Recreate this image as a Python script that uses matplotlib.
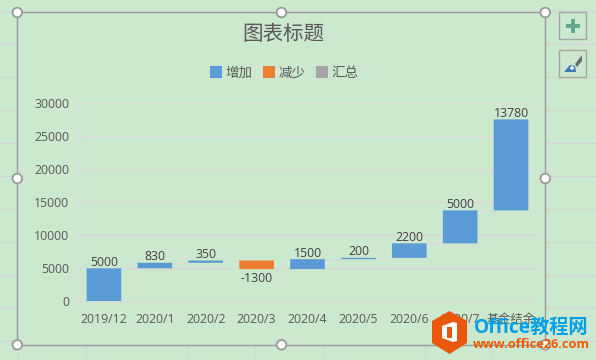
import matplotlib
matplotlib.use("Agg")
import matplotlib.pyplot as plt
from matplotlib.patches import Circle, Polygon, Rectangle

# Data
categories = ["2019/12", "2020/1", "2020/2", "2020/3", "2020/4",
              "2020/5", "2020/6", "2020/7", "基金结余"]
changes = [5000, 830, 350, -1300, 1500, 200, 2200, 5000, 13780]
y_ticks = [0, 5000, 10000, 15000, 20000, 25000, 30000]
legend_labels = ["增加", "减少", "汇总"]

BG = "#CCE8CF"
BLUE = "#5B9BD5"
ORANGE = "#ED7D31"
GRAY = "#A5A5A5"
GRID = "#D9D9D9"
TEXT = "#595959"
W, H = 596, 360

plt.rcParams["font.family"] = ["Open Sans", "Noto Sans CJK SC", "DejaVu Sans"]

fig = plt.figure(figsize=(W / 100, H / 100), dpi=100, facecolor=BG)

# pixel canvas for everything around the plot
bg = fig.add_axes([0, 0, 1, 1], zorder=0)
bg.set_xlim(0, W)
bg.set_ylim(H, 0)
bg.axis("off")

# sheet cell lines outside the chart
for y in [11, 44, 77, 110, 143, 176, 209, 242, 275, 308, 341]:
    bg.plot([0, 17], [y, y], color="#D4D4D4", lw=0.8)
    bg.plot([546, W], [y, y], color="#D4D4D4", lw=0.8)
for x in [18, 86, 187, 255, 324, 425, 492]:
    bg.plot([x, x], [345, H], color="#D4D4D4", lw=0.8)

# plot area
ax = fig.add_axes([78.5 / W, 1 - 301.3 / H, 458 / W, 198 / H], zorder=2)
ax.patch.set_alpha(0)

bottoms = []
tops = []
total = 0
for v in changes[:-1]:
    bottoms.append(min(total, total + v))
    tops.append(max(total, total + v))
    total += v
# last bar stacks the balance on the running total
bottoms.append(total)
tops.append(total + changes[-1])

xs = list(range(len(categories)))
colors = [ORANGE if v < 0 else BLUE for v in changes]
bars = ax.bar(xs, [t - b for t, b in zip(tops, bottoms)], bottom=bottoms,
              width=0.68, color=colors, zorder=3)
for b in bars:
    b.set_snap(False)

# connectors between bars
level = 0
for i in range(len(categories) - 1):
    level += changes[i]
    ax.plot([i + 0.34, i + 0.66], [level, level], color=GRID, lw=0.7, zorder=2)

for i, v in enumerate(changes):
    if v < 0:
        ax.annotate(str(v), (i, bottoms[i]), xytext=(0, -2),
                    textcoords="offset points", ha="center", va="top",
                    fontsize=8.8, color="#404040", zorder=4)
    else:
        ax.annotate(str(v), (i, tops[i]), xytext=(0, -0.3),
                    textcoords="offset points", ha="center", va="bottom",
                    fontsize=8.8, color="#404040", zorder=4)

ax.set_xlim(-0.5, len(categories) - 0.5)
ax.set_ylim(0, 30000)
ax.set_yticks(y_ticks)
ax.set_xticks(xs, categories)
ax.tick_params(length=0, labelsize=8.8, labelcolor=TEXT)
ax.tick_params(axis="y", pad=6.8)
ax.tick_params(axis="x", pad=8.2)
ax.grid(axis="y", color=GRID, lw=1, zorder=1)
ax.set_axisbelow(True)
for side in ["top", "right"]:
    ax.spines[side].set_visible(False)
for side in ["left", "bottom"]:
    ax.spines[side].set_color(GRID)
    ax.spines[side].set_linewidth(1)

# title and legend
bg.text(283, 35, "图表标题", ha="center", va="center", fontsize=14.8, color=TEXT)
for x, col, label in zip([210, 263, 316], [BLUE, ORANGE, GRAY], legend_labels):
    bg.add_patch(Rectangle((x, 66), 11.5, 12, color=col, lw=0))
    bg.text(x + 15.5, 73.5, label, ha="left", va="center", fontsize=9.7, color=TEXT)

# chart selection frame
ov = fig.add_axes([0, 0, 1, 1], zorder=5)
ov.set_xlim(0, W)
ov.set_ylim(H, 0)
ov.axis("off")
ov.patch.set_alpha(0)
ov.add_patch(Rectangle((17, 12), 528, 333, fill=False, ec="#999999", lw=1))
for x, y in [(17.3, 12.5), (281.5, 12.5), (545.3, 12.5), (17.3, 178.5),
             (545.3, 178.5), (17.3, 344.8), (281.5, 344.8), (545.3, 344.8)]:
    ov.add_patch(Circle((x, y), 4.8, fc="white", ec="#999999", lw=1.3))

# side buttons
for y in [12, 50]:
    ov.add_patch(Rectangle((559, y), 27, 27, fill=False, ec="#A6A6A6", lw=1))
ov.add_patch(Rectangle((566, 23.5), 14, 4.5, color="#66A88E", lw=0))
ov.add_patch(Rectangle((570.7, 19), 4.5, 14, color="#66A88E", lw=0))
ov.add_patch(Polygon([(564, 72), (570, 65), (575, 66), (576, 72)], color="#3F78B5", lw=0))
ov.add_patch(Circle((572, 68), 1.8, color="white", lw=0))
ov.add_patch(Polygon([(575, 64), (582, 55), (582, 61), (577, 67)], color="#6B6B6B", lw=0))

# watermark
ov.add_patch(Polygon([(449.5, 311), (467, 321), (467, 343), (449.5, 354), (432, 343), (432, 321)],
                     color="#E8590C", lw=0))
ov.add_patch(Polygon([(442, 326), (453, 322), (457, 323), (457, 341), (453, 342), (442, 338)],
                     color="white", lw=0))
ov.add_patch(Rectangle((447, 327), 5, 11, color="#E8590C", lw=0))
ov.text(474, 328, "Office教程网", ha="left", va="center", fontsize=13.8,
        fontweight="bold", color="#00A0E9")
ov.text(473, 345, "www.office26.com", ha="left", va="center", fontsize=9.2,
        fontweight="bold", color="#F05A00")

fig.savefig("out.png", dpi=100, facecolor=BG)
